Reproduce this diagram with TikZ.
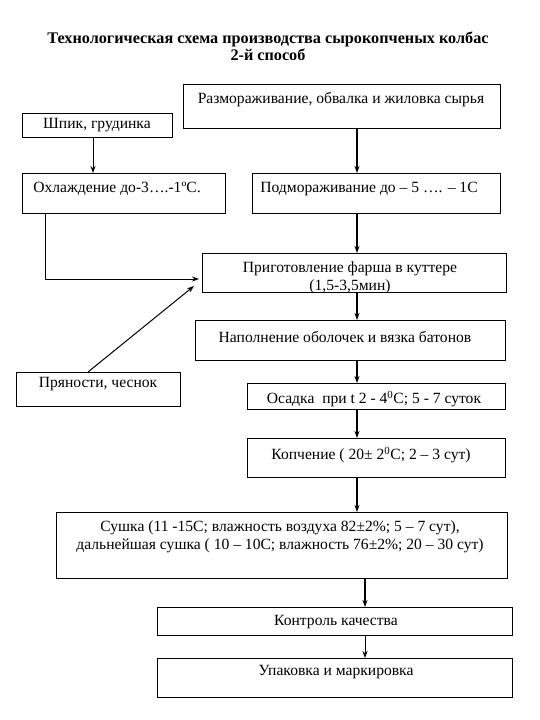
\documentclass[tikz,border=0pt]{standalone}
\usepackage{fontspec}
\setmainfont{Liberation Serif}
\usetikzlibrary{arrows.meta}
\begin{document}
\begin{tikzpicture}[x=1pt,y=-1pt,
  box/.style={draw, line width=0.9pt, inner sep=0pt, outer sep=0pt, anchor=north west},
  txt/.style={inner sep=0pt, font=\fontsize{15.6}{18}\selectfont, align=center},
  ttl/.style={inner sep=0pt, font=\bfseries\fontsize{16.2}{17}\selectfont, align=center},
  arr/.style={line width=1.3pt, -{Stealth[length=7pt,width=5pt]}},
  thin/.style={line width=1pt, -{Stealth[length=7pt,width=5pt]}}]
\useasboundingbox (0,0) rectangle (540,720);
% title
\node[ttl] (title) at (268,46) {Технологическая схема производства сырокопченых колбас\\2-й способ};
% boxes
\node[box, minimum width=317pt, minimum height=44pt] (b1) at (183,84) {};
\node[box, minimum width=150pt, minimum height=24pt] (b2) at (22,113) {};
\node[box, minimum width=203pt, minimum height=40pt] (b3) at (22,173) {};
\node[box, minimum width=248pt, minimum height=40pt] (b4) at (252,173) {};
\node[box, minimum width=304pt, minimum height=39pt] (b5) at (202,253) {};
\node[box, minimum width=310pt, minimum height=40pt] (b6) at (195,320) {};
\node[box, minimum width=164pt, minimum height=34pt] (b7) at (16,372) {};
\node[box, minimum width=258pt, minimum height=26pt] (b8) at (247,383) {};
\node[box, minimum width=258pt, minimum height=39pt] (b9) at (247,438) {};
\node[box, minimum width=451pt, minimum height=66pt] (b10) at (56,512) {};
\node[box, minimum width=355pt, minimum height=28pt] (b11) at (157,607) {};
\node[box, minimum width=355pt, minimum height=39pt] (b12) at (157,658) {};
% texts
\node[txt] (t1) at (341,100) {Размораживание, обвалка и жиловка сырья};
\node[txt] (t2) at (97,125) {Шпик, грудинка};
\node[txt] (t3) at (117,189) {Охлаждение до-3….-1ºС.};
\node[txt] (t4) at (369,189) {Подмораживание до – 5 …. – 1С};
\node[txt] (t5) at (350,278) {Приготовление фарша в куттере\\(1,5-3,5мин)};
\node[txt] (t6) at (345,337) {Наполнение оболочек и вязка батонов};
\node[txt] (t7) at (98,384) {Пряности, чеснок};
\node[txt] (t8) at (374,399) {Осадка\ \ при t 2 - 4\textsuperscript{0}С; 5 - 7 суток};
\node[txt] (t9) at (371,455) {Копчение ( 20± 2\textsuperscript{0}С; 2 – 3 сут)};
\node[txt] (t10) at (280,537) {Сушка (11 -15С; влажность воздуха 82±2\%; 5 – 7 сут),\\дальнейшая сушка ( 10 – 10С; влажность 76±2\%; 20 – 30 сут)};
\node[txt] (t11) at (336,622) {Контроль качества};
\node[txt] (t12) at (336,672) {Упаковка и маркировка};
% connectors
\coordinate (xc) at (357,0);
\coordinate (xd) at (365,0);
\coordinate (xs) at (93,0);
\coordinate (k1) at (45,279);
\coordinate (p1) at (88,0);
\coordinate (p2) at (194,286);
\draw[arr] (b1.south -| xc) -- (b4.north -| xc);
\draw[arr] (b4.south -| xc) -- (b5.north -| xc);
\draw[arr] (b5.south -| xc) -- (b6.north -| xc);
\draw[arr] (b6.south -| xc) -- (b8.north -| xc);
\draw[arr] (b8.south -| xc) -- (b9.north -| xc);
\draw[arr] (b9.south -| xc) -- (b10.north -| xc);
\draw[arr] (b10.south -| xd) -- (b11.north -| xd);
\draw[thin] (b11.south -| xd) -- (b12.north -| xd);
\draw[thin] (b2.south -| xs) -- (b3.north -| xs);
\draw[thin, shorten >=3pt] (b3.south -| k1) |- (b5.west |- k1);
\draw[thin] (b7.north -| p1) -- (p2);
\end{tikzpicture}
\end{document}
